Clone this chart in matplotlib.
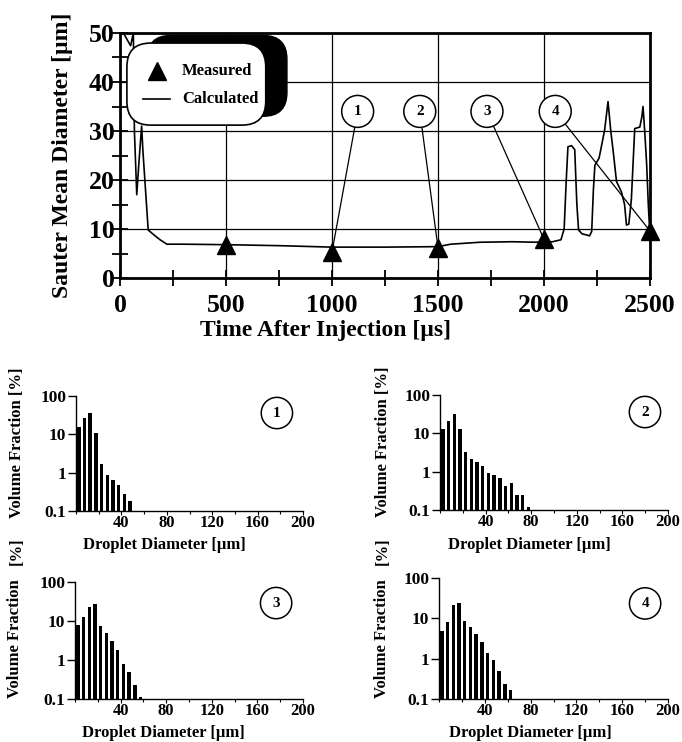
import matplotlib
matplotlib.use('Agg')
import matplotlib.pyplot as plt
from matplotlib.patches import FancyBboxPatch
from matplotlib.ticker import MultipleLocator, FixedLocator

plt.rcParams['font.family'] = ['Liberation Serif', 'DejaVu Serif']
plt.rcParams['font.weight'] = 'bold'

# ---------------- data ----------------
calc_time = [0, 16, 50, 63, 68, 79, 90, 102, 108, 133, 160, 189, 221, 300,
             500, 750, 1000, 1250, 1500, 1560, 1700, 1850, 1960, 2040, 2080,
             2095, 2105, 2113, 2130, 2145, 2155, 2163, 2180, 2200, 2215, 2225,
             2233, 2240, 2260, 2286, 2302, 2315, 2326, 2342, 2365, 2380, 2389,
             2400, 2412, 2428, 2452, 2462, 2467, 2475, 2484, 2492, 2498]
calc_smd = [50, 50, 47.4, 50, 30, 17, 24, 31, 26, 9.8, 8.8, 7.8, 6.9, 6.9,
            6.8, 6.6, 6.3, 6.3, 6.4, 6.9, 7.3, 7.4, 7.3, 7.4, 7.8,
            10, 20, 26.8, 27, 26.2, 15, 9.8, 9, 8.8, 8.6, 9.5,
            18, 23, 24.5, 30.2, 36, 30, 26, 19.7, 17.6, 15, 10.8,
            11, 16, 30.5, 30.8, 33, 35, 30, 23.4, 15, 10]

meas_time = [500, 1000, 1500, 2000, 2500]
meas_smd = [6.8, 5.3, 6.2, 7.9, 9.6]

label_ids = ['1', '2', '3', '4']
label_time = [1121, 1414, 1731, 2053]
label_smd = [34, 34, 34, 34]
label_target_time = [1000, 1500, 2000, 2500]
label_target_smd = [5.3, 6.2, 7.9, 9.6]

diam_bins = [2.5, 7.5, 12.5, 17.5, 22.5, 27.5, 32.5, 37.5, 42.5, 47.5,
             52.5, 57.5, 62.5, 67.5, 72.5, 77.5]
vf1 = [16, 27, 36, 11, 1.7, 0.85, 0.63, 0.48, 0.27, 0.18]
vf2 = [13, 21, 31, 13, 3.2, 2.2, 1.75, 1.4, 0.9, 0.83, 0.7, 0.43, 0.5, 0.25, 0.25, 0.12]
vf3 = [7.8, 12.6, 23, 27, 7.4, 5.0, 3.0, 1.8, 0.8, 0.48, 0.23, 0.11]
vf4 = [4.8, 8.3, 21, 24, 8.6, 6.1, 4.0, 2.6, 1.4, 0.95, 0.49, 0.24, 0.17]

xticks_main = [0, 500, 1000, 1500, 2000, 2500]
yticks_main = [0, 10, 20, 30, 40, 50]
hist_xticks = [40, 80, 120, 160, 200]
hist_yticks = [0.1, 1, 10, 100]
hist_ylabels = ['0.1', '1', '10', '100']

W, H = 682, 742
fig = plt.figure(figsize=(W / 100, H / 100), dpi=100)


def ax_px(l, t, r, b):
    return fig.add_axes([l / W, 1 - b / H, (r - l) / W, (b - t) / H])


# ---------------- main chart ----------------
ax = ax_px(120, 33, 650, 278)
ax.set_xlim(0, 2500)
ax.set_ylim(0, 50)
ax.set_xticks(xticks_main)
ax.set_yticks(yticks_main)
ax.xaxis.set_minor_locator(MultipleLocator(250))
ax.yaxis.set_minor_locator(MultipleLocator(5))
ax.grid(True, which='major', color='black', lw=0.9, zorder=1)
ax.set_axisbelow(True)
for s in ax.spines.values():
    s.set_linewidth(2.0)
ax.tick_params(which='both', direction='inout', length=11, width=1.3,
               labelsize=18.5, colors='black')
ax.tick_params(axis='y', pad=-1.5)
ax.tick_params(axis='x', pad=6)
for lab in ax.get_xticklabels() + ax.get_yticklabels():
    lab.set_fontweight('bold')

ax.plot(calc_time, calc_smd, color='black', lw=1.2, zorder=3, clip_on=True)

for lid, tx, ty, mx, my in zip(label_ids, label_time, label_smd,
                               label_target_time, label_target_smd):
    ax.annotate(lid, xy=(mx, my), xytext=(tx, ty), ha='center', va='center',
                fontsize=11, fontweight='bold',
                bbox=dict(boxstyle='circle,pad=0.62', fc='white', ec='black', lw=1.1),
                arrowprops=dict(arrowstyle='-', color='black', lw=0.9,
                                shrinkA=0, shrinkB=0), zorder=4)

ax.plot(meas_time, meas_smd, linestyle='none', marker='^', ms=13,
        color='black', zorder=6, clip_on=False)

ax.set_xlabel('Time After Injection [µs]', fontsize=17, fontweight='bold', va='center')
ax.xaxis.set_label_coords(0.387, -0.216)
ax.set_ylabel('Sauter Mean Diameter [µm]', fontsize=17, fontweight='bold', va='center')
ax.yaxis.set_label_coords(-0.109, 0.5)

# legend drawn by hand (rounded box with heavy shadow on the upper right)
asp = 530 / 245
shadow = FancyBboxPatch((0.051, 0.66), 0.264, 0.33,
                        boxstyle='round,pad=0,rounding_size=0.045',
                        mutation_aspect=asp, transform=ax.transAxes,
                        fc='black', ec='black', lw=1, zorder=7, clip_on=False)
box = FancyBboxPatch((0.013, 0.624), 0.262, 0.335,
                     boxstyle='round,pad=0,rounding_size=0.045',
                     mutation_aspect=asp, transform=ax.transAxes,
                     fc='white', ec='black', lw=1.2, zorder=8, clip_on=False)
ax.add_patch(shadow)
ax.add_patch(box)
ax.plot([0.07], [0.845], marker='^', ms=13, color='black',
        transform=ax.transAxes, zorder=9, clip_on=False)
ax.plot([0.043, 0.094], [0.731, 0.731], color='black', lw=1.2,
        transform=ax.transAxes, zorder=9, clip_on=False)
ax.text(0.117, 0.845, 'Measured', transform=ax.transAxes, fontsize=12,
        fontweight='bold', va='center', ha='left', zorder=10)
ax.text(0.117, 0.731, 'Calculated', transform=ax.transAxes, fontsize=12,
        fontweight='bold', va='center', ha='left', zorder=10)

# ---------------- histograms ----------------
# (values, id, axes box px, ylabel text, ylabel coords, xlabel coords, circle pos, detached "[%]" px)
hist_specs = [
    (vf1, '1', (76, 396, 303, 511), 'Volume Fraction [%]', (-0.258, 0.59), (0.388, -0.296), (0.885, 0.852), None),
    (vf2, '2', (440, 395, 668, 510), 'Volume Fraction [%]', (-0.25, 0.59), (0.39, -0.304), (0.899, 0.852), None),
    (vf3, '3', (75, 582, 303, 699), 'Volume Fraction', (-0.263, 0.52), (0.388, -0.291), (0.882, 0.82), (17, 551)),
    (vf4, '4', (439, 578, 668, 699), 'Volume Fraction', (-0.247, 0.50), (0.40, -0.281), (0.90, 0.79), (383, 551)),
]

for vals, lid, (l, t, r, b), ylab, ylc, xlc, cpos, pct in hist_specs:
    h = ax_px(l, t, r, b)
    h.bar(diam_bins[:len(vals)], vals, width=3.0, color='black', log=True, zorder=2)
    h.set_yscale('log')
    h.set_ylim(0.1, 100)
    h.set_xlim(0, 200)
    h.spines['top'].set_visible(False)
    h.spines['right'].set_visible(False)
    h.spines['left'].set_linewidth(1.0)
    h.spines['bottom'].set_linewidth(1.0)
    h.yaxis.set_major_locator(FixedLocator(hist_yticks))
    h.yaxis.set_minor_locator(FixedLocator([]))
    h.set_yticklabels(hist_ylabels)
    h.set_xticks(hist_xticks)
    h.xaxis.set_minor_locator(MultipleLocator(20))
    h.tick_params(axis='y', which='major', direction='out', length=6, width=1.0,
                  labelsize=12.5, pad=1)
    h.tick_params(axis='x', which='major', direction='out', length=3, width=0.8,
                  labelsize=12, pad=0)
    h.tick_params(axis='x', which='minor', direction='out', length=2, width=0.8)
    for lab in h.get_xticklabels() + h.get_yticklabels():
        lab.set_fontweight('bold')
    h.set_xlabel('Droplet Diameter [µm]', fontsize=12, fontweight='bold', va='center')
    h.xaxis.set_label_coords(*xlc)
    h.set_ylabel(ylab, fontsize=12, fontweight='bold', va='center')
    h.yaxis.set_label_coords(*ylc)
    if pct is not None:
        fig.text(pct[0] / W, 1 - pct[1] / H, '[%]', rotation=90, ha='center',
                 va='center', fontsize=12, fontweight='bold')
    h.text(cpos[0], cpos[1], lid, transform=h.transAxes, ha='center', va='center',
           fontsize=11, fontweight='bold',
           bbox=dict(boxstyle='circle,pad=0.6', fc='white', ec='black', lw=1.1))

fig.savefig('out.png', dpi=100)
